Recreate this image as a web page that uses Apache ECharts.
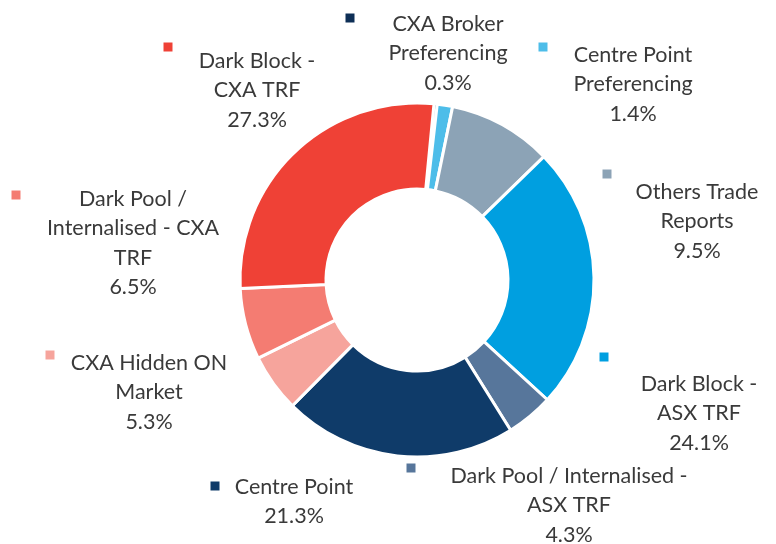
<!DOCTYPE html>
<html>
<head>
<meta charset="UTF-8">
<title>Dark liquidity split</title>
<script src="https://cdn.jsdelivr.net/npm/echarts@6/dist/echarts.min.js"></script>
<style>
	html, body { margin: 0; padding: 0; background: #fff; }
	#main { width: 776px; height: 544px; }
</style>
</head>
<body>
<div id="main"></div>
<script>
	// slices, clockwise from the top
	var names = ['CXA Broker Preferencing', 'Centre Point Preferencing', 'Others Trade Reports',
		'Dark Block - ASX TRF', 'Dark Pool / Internalised - ASX TRF', 'Centre Point',
		'CXA Hidden ON Market', 'Dark Pool / Internalised - CXA TRF', 'Dark Block - CXA TRF'];
	// label text broken the way it is in the picture
	var labelLines = ['CXA Broker\nPreferencing', 'Centre Point\nPreferencing', 'Others Trade\nReports',
		'Dark Block -\nASX TRF', 'Dark Pool / Internalised -\nASX TRF', 'Centre Point',
		'CXA Hidden ON\nMarket', 'Dark Pool /\nInternalised - CXA\nTRF', 'Dark Block -\nCXA TRF'];
	var values = [0.3, 1.4, 9.5, 24.1, 4.3, 21.3, 5.3, 6.5, 27.3];
	var colors = ['#0E2F56', '#4DBDE9', '#8CA3B6', '#009FE0', '#57769B', '#0F3B69', '#F6A49C', '#F47C72', '#EF4136'];

	// where each label sits: text block [centre x, top y] and legend key [x, y]
	var textPos = [[448, 9], [633, 40], [697, 177], [699, 369], [569, 461], [294, 472], [149, 348], [133, 184], [257, 46]];
	var keyPos = [[350, 18], [543, 47], [607, 174], [604, 357], [411, 468], [215, 486], [50, 355], [16, 195], [168, 47]];

	var myChart = echarts.init(document.getElementById('main'));

	var data = [];
	var keyRich = {};
	for (var i = 0; i < values.length; i++) {
		data.push({ name: names[i], value: values[i], itemStyle: { color: colors[i] } });
		keyRich['k' + i] = { width: 9, height: 9, backgroundColor: colors[i] };
	}

	var option = {
		backgroundColor: '#fff',
		animation: false,
		series: [{
			// legend keys next to each label
			type: 'pie',
			center: [417, 280],
			radius: [91, 177],
			startAngle: 84.5,
			silent: true,
			avoidLabelOverlap: false,
			itemStyle: { color: 'rgba(0,0,0,0)' },
			label: {
				show: true,
				formatter: function (p) { return '{k' + p.dataIndex + '|}'; },
				rich: keyRich
			},
			labelLine: { show: false },
			labelLayout: function (p) {
				return { x: keyPos[p.dataIndex][0], y: keyPos[p.dataIndex][1], align: 'center', verticalAlign: 'middle' };
			},
			data: data.map(function (d) { return { name: d.name, value: d.value }; })
		}, {
			type: 'pie',
			center: [417, 280],
			radius: [91, 177],
			startAngle: 84.5,
			avoidLabelOverlap: false,
			itemStyle: { borderColor: '#fff', borderWidth: 3 },
			emphasis: { disabled: true },
			label: {
				show: true,
				color: '#3a3a3a',
				fontFamily: 'Lato',
				fontSize: 21.5,
				lineHeight: 29.5,
				align: 'center',
				formatter: function (p) {
					return labelLines[p.dataIndex] + '\n' + p.value.toFixed(1) + '%';
				}
			},
			labelLine: { show: false },
			labelLayout: function (p) {
				return { x: textPos[p.dataIndex][0], y: textPos[p.dataIndex][1], align: 'center', verticalAlign: 'top' };
			},
			data: data
		}]
	};
	myChart.setOption(option);
</script>
</body>
</html>
